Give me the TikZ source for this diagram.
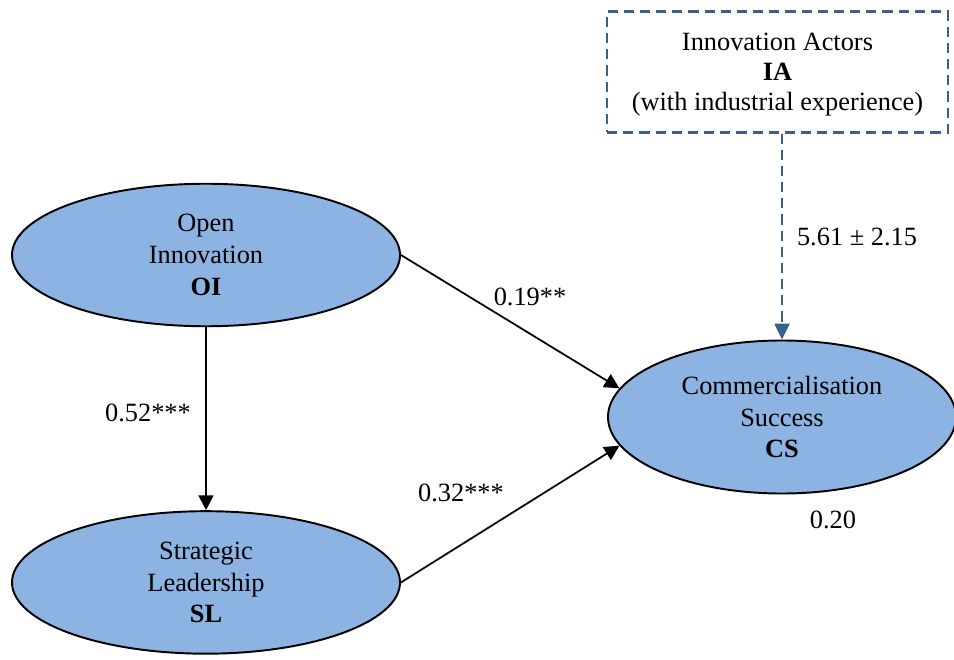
\documentclass[tikz,border=0pt]{standalone}
\usepackage{fontspec}
\setmainfont{Liberation Serif}
\usepackage{xcolor}
\usetikzlibrary{arrows.meta, positioning, shapes.geometric}

\definecolor{latentblue}{RGB}{141,179,226}
\definecolor{actorblue}{RGB}{58,96,143}

\begin{document}
\begin{tikzpicture}[
  latent/.style={draw, ellipse, fill=latentblue, line width=1.1pt, minimum width=7.76cm, minimum height=2.85cm, align=center, font=\fontsize{15}{18}\selectfont},
  actors/.style={draw=actorblue, rectangle, dash pattern=on 5.8pt off 3.4pt, line width=1.2pt, minimum width=6.82cm, minimum height=2.42cm, align=center, font=\fontsize{15}{17}\selectfont},
  coef/.style={font=\fontsize{15}{18}\selectfont},
  arr/.style={-{Triangle[width=8.5pt,length=8.5pt]}, line width=1pt},
  dasharr/.style={-{Triangle[width=8.5pt,length=9pt]}, draw=actorblue, dash pattern=on 5.8pt off 3.4pt, line width=1.2pt},
  node distance=3.66cm
]
\useasboundingbox (0,0) rectangle (19.08,13.18);

\node[latent] (oi) at (4.12,8.08) {Open\\Innovation\\\textbf{OI}};
\node[latent, below=of oi] (sl) {Strategic\\Leadership\\\textbf{SL}};
\node[latent, minimum width=6.96cm, minimum height=3.06cm] (cs) at (15.64,4.84) {Commercialisation\\Success\\\textbf{CS}};
\node[actors, text depth=0pt] (ia) at (15.55,11.74) {Innovation Actors\\\textbf{IA}\\(with industrial experience)};

% path coefficients
\node[coef] (b1) at (10.6,7.24) {0.19**};
\node[coef] (b2) at (2.96,4.92) {0.52***};
\node[coef] (b3) at (9.22,3.32) {0.32***};
\node[coef] (r2) at (16.66,2.78) {0.20};
\node[coef] (mod) at (17.14,8.44) {5.61 ± 2.15};

\draw[arr] (oi) -- (sl);
\draw[arr] (oi.east) -- (cs.170);
\draw[arr] (sl.east) -- (cs.190);
\draw[dasharr] (ia.south -| cs.north) -- (cs.north);
\end{tikzpicture}
\end{document}
